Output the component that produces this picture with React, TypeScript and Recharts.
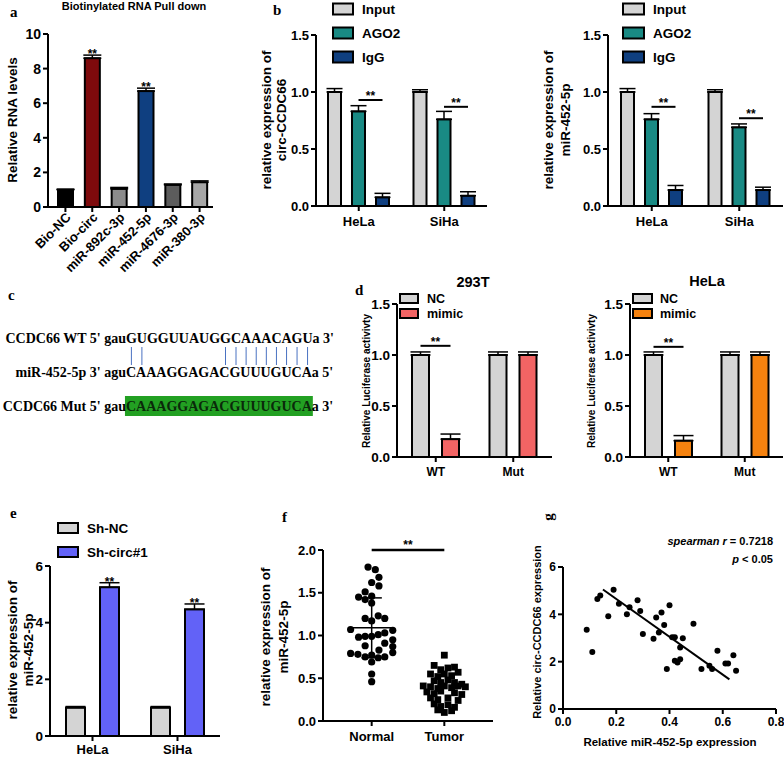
import React, { useMemo } from 'react';
import { BarChart, Bar, XAxis, YAxis, ErrorBar, ScatterChart, Scatter, ReferenceLine } from 'recharts';

const SANS = '"Liberation Sans", Arial, Helvetica, sans-serif';
const SERIF = '"Liberation Serif", "Times New Roman", serif';

// ---------------- panel a ----------------
const aCategories = ['Bio-NC', 'Bio-circ', 'miR-892c-3p', 'miR-452-5p', 'miR-4676-3p', 'miR-380-3p'];
const aValues = [1.0, 8.6, 1.05, 6.7, 1.28, 1.43];
const aErrors = [0.03, 0.18, 0.08, 0.17, 0.05, 0.08];
const aSignificant = [false, true, false, true, false, false];
const aColors = ['#000000', '#7e0a0c', '#8c8c8c', '#0f3f80', '#5c5c5c', '#a6a6a6'];
const aYTicks = [0, 2, 4, 6, 8, 10];

// ---------------- panel b ----------------
const bGroups = ['HeLa', 'SiHa'];
const bLegend = ['Input', 'AGO2', 'IgG'];
const bColors = ['#d4d4d4', '#198a84', '#0f3f80'];
const bCircInput = [1.0, 1.0];
const bCircInputErr = [0.03, 0.02];
const bCircAgo2 = [0.83, 0.76];
const bCircAgo2Err = [0.05, 0.07];
const bCircIgg = [0.076, 0.09];
const bCircIggErr = [0.035, 0.035];
const bCircSigLine = [0.93, 0.87];
const bMirInput = [1.0, 1.0];
const bMirInputErr = [0.03, 0.02];
const bMirAgo2 = [0.76, 0.69];
const bMirAgo2Err = [0.05, 0.03];
const bMirIgg = [0.14, 0.14];
const bMirIggErr = [0.04, 0.025];
const bMirSigLine = [0.87, 0.77];
const bYTicks = [0, 0.5, 1, 1.5];

// ---------------- panel c ----------------
const cWtPrefix = "CCDC66 WT 5' gau";
const cWtSeq = 'GUGGUUAUGGCAAACAGU';
const cWtSuffix = "a 3'";
const cMirPrefix = "miR-452-5p 3' agu";
const cMirSeq = 'CAAAGGAGACGUUUGUCA';
const cMirSuffix = "a 5'";
const cMutPrefix = "CCDC66 Mut 5' gau";
const cMutSeq = 'CAAAGGAGACGUUUGUCA';
const cMutSuffix = "a 3'";
const cPairs = [0, 1, 9, 10, 11, 12, 13, 14, 15, 16, 17];

// ---------------- panel d ----------------
const dGroups = ['WT', 'Mut'];
const dLegend = ['NC', 'mimic'];
const d293Colors = ['#d4d4d4', '#f26464'];
const dHelaColors = ['#d4d4d4', '#f5820f'];
const d293NC = [1.0, 1.0];
const d293NCErr = [0.03, 0.03];
const d293Mimic = [0.175, 1.0];
const d293MimicErr = [0.05, 0.03];
const d293Sig = [1.09, null];
const dHelaNC = [1.0, 1.0];
const dHelaNCErr = [0.03, 0.03];
const dHelaMimic = [0.16, 1.0];
const dHelaMimicErr = [0.05, 0.03];
const dHelaSig = [1.08, null];
const dYTicks = [0, 0.5, 1, 1.5];

// ---------------- panel e ----------------
const eGroups = ['HeLa', 'SiHa'];
const eLegend = ['Sh-NC', 'Sh-circ#1'];
const eColors = ['#d4d4d4', '#6262f7'];
const eShNC = [1.0, 1.0];
const eShNCErr = [0.04, 0.04];
const eShCirc = [5.25, 4.47];
const eShCircErr = [0.16, 0.19];
const eStars = [true, true];
const eYTicks = [0, 2, 4, 6];

// ---------------- panel f ----------------
const fGroups = ['Normal', 'Tumor'];
const fNormalPoints: [number, number][] = [
  [0.95, 1.8], [1.05, 1.77], [1.1, 1.68], [1.0, 1.62], [1.1, 1.58], [0.91, 1.51], [0.82, 1.45],
  [0.91, 1.42], [1.0, 1.46], [1.0, 1.38], [0.91, 1.2], [1.0, 1.17], [1.09, 1.23], [1.18, 1.2],
  [0.71, 1.07], [1.29, 1.06], [0.82, 0.98], [0.91, 0.99], [1.0, 0.99], [1.09, 1.01], [1.18, 1.03],
  [1.29, 0.95], [0.91, 0.88], [1.18, 0.91], [1.29, 0.87], [0.71, 0.79], [0.81, 0.78], [0.91, 0.75],
  [1.0, 0.77], [1.09, 0.74], [1.18, 0.75], [1.29, 0.8], [1.1, 0.83], [1.0, 0.69], [1.0, 0.55], [1.0, 0.46],
];
const fTumorPoints: [number, number][] = [
  [2.0, 0.77],
  [1.86, 0.65], [1.95, 0.6], [2.05, 0.62], [2.14, 0.63],
  [1.81, 0.55], [1.91, 0.52], [2.0, 0.55], [2.1, 0.53], [2.19, 0.57],
  [1.86, 0.47], [1.95, 0.45], [2.05, 0.48], [2.14, 0.45], [2.24, 0.43],
  [1.71, 0.41], [1.81, 0.4], [1.91, 0.38], [2.0, 0.41], [2.1, 0.39], [2.19, 0.41], [2.29, 0.4],
  [1.76, 0.34], [1.86, 0.32], [1.95, 0.35], [2.14, 0.33], [2.24, 0.31],
  [1.81, 0.27], [1.91, 0.25], [2.05, 0.27], [2.19, 0.24],
  [1.86, 0.2], [1.95, 0.17], [2.05, 0.19], [2.14, 0.16],
  [1.91, 0.13], [2.0, 0.1], [2.1, 0.12],
];
const fNormalMean = 1.09;
const fNormalSD = 0.35;
const fTumorMean = 0.34;
const fTumorSD = 0.16;
const fSigLine = 2.0;
const fYTicks = [0, 0.5, 1, 1.5, 2];

// ---------------- panel g ----------------
const gX = [0.089, 0.11, 0.129, 0.14, 0.17, 0.19, 0.21, 0.24, 0.25, 0.28, 0.29, 0.3, 0.34, 0.35, 0.36, 0.37, 0.38,
  0.39, 0.4, 0.41, 0.42, 0.42, 0.43, 0.44, 0.44, 0.45, 0.49, 0.52, 0.55, 0.56, 0.58, 0.61, 0.62, 0.64, 0.65];
const gY = [3.35, 2.41, 4.65, 4.8, 3.92, 5.04, 4.45, 4.0, 4.3, 4.59, 4.14, 3.17, 2.97, 3.87, 3.23, 4.08, 3.55,
  1.69, 4.38, 3.03, 3.03, 2.04, 1.96, 2.1, 2.6, 2.99, 3.6, 1.69, 1.83, 1.69, 2.46, 1.92, 1.92, 2.27, 1.62];
const gFitX = [0.15, 0.625];
const gFitY = [5.05, 1.25];
const gXTicks = [0, 0.2, 0.4, 0.6, 0.8];
const gYTicks = [0, 2, 4, 6];

// ---------------- helpers ----------------
type Box = { left: number; top: number; width: number; height: number };
type Plot = { x0: number; x1: number; y0: number; y1: number };

function frame(box: Box, plot: Plot) {
  return {
    margin: { top: plot.y0 - box.top, right: box.left + box.width - plot.x1, bottom: 0, left: 0 },
    yWidth: plot.x0 - box.left,
    xHeight: box.top + box.height - plot.y1,
  };
}

const AX = { stroke: '#000', strokeWidth: 2 };
const tickStyle = (fs: number) => ({ fill: '#000', fontSize: fs, fontWeight: 700, fontFamily: SANS });
const fmt1 = (v: number) => v.toFixed(1);

function groupRows(groups: string[], vals: number[][], errs: number[][], sig?: (number | null)[], stars?: boolean[]) {
  return groups.map((name, g) => {
    const row: any = { name, sig: sig ? sig[g] : null, star: stars ? stars[g] : false };
    vals.forEach((arr, s) => {
      row[`s${s}`] = arr[g];
      row[`e${s}`] = [0, errs[s][g]];
    });
    return row;
  });
}

function makeBarShape(fill: string | ((n: string) => string), key: string, opts: { sigGap?: number; starErrKey?: string }) {
  return (p: any) => {
    const { x, y, width, height, payload } = p;
    if (x == null || y == null || !payload) return null;
    const color = typeof fill === 'function' ? fill(payload.name) : fill;
    const v = payload[key];
    const ppu = v ? height / v : 0;
    const base = y + height;
    const parts: any[] = [
      <rect key="r" x={x} y={y} width={width} height={height} fill={color} stroke="#000" strokeWidth={2} />,
    ];
    if (opts.sigGap != null && payload.sig != null) {
      const sy = base - payload.sig * ppu;
      const c1 = x + width / 2;
      const c2 = c1 + width + opts.sigGap;
      parts.push(<line key="l" x1={c1} x2={c2} y1={sy} y2={sy} stroke="#000" strokeWidth={2} />);
      parts.push(
        <text key="t" x={(c1 + c2) / 2} y={sy} textAnchor="middle" fontFamily={SANS} fontWeight={700} fontSize={12} fill="#000">**</text>
      );
    }
    if (opts.starErrKey && payload.star) {
      const err = payload[opts.starErrKey];
      const top = y - (Array.isArray(err) ? err[1] : err) * ppu;
      parts.push(
        <text key="s" x={x + width / 2} y={top + 3} textAnchor="middle" fontFamily={SANS} fontWeight={700} fontSize={12} fill="#000">**</text>
      );
    }
    return <g>{parts}</g>;
  };
}

const RotatedTick = (props: any) => {
  const { x, y, payload } = props;
  const ox = x + 3;
  const oy = y + 1;
  return (
    <text x={ox} y={oy} dy="0.35em" textAnchor="end" transform={`rotate(-45, ${ox}, ${oy})`} fill="#000" fontSize={13} fontWeight={700} fontFamily={SANS}>
      {payload.value}
    </text>
  );
};

// ---------------- panels ----------------
const aRows = aCategories.map((name, i) => ({ name, s0: aValues[i], e0: [0, aErrors[i]], star: aSignificant[i], sig: null }));

function PanelA() {
  const box = { left: 0, top: 20, width: 228, height: 260 };
  const plot = { x0: 48, x1: 213, y0: 34, y1: 207 };
  const f = frame(box, plot);
  return (
    <div style={{ position: 'absolute', left: box.left, top: box.top }}>
      <BarChart width={box.width} height={box.height} data={aRows} margin={f.margin} barSize={15}>
        <XAxis dataKey="name" interval={0} height={f.xHeight} axisLine={AX} tickLine={AX} tickSize={5} padding={{ left: 4, right: 0 }}
          tick={(p: any) => <RotatedTick {...p} />} />
        <YAxis type="number" width={f.yWidth} domain={[0, 10]} ticks={aYTicks} interval={0} axisLine={AX} tickLine={AX} tickSize={5} tickMargin={2} tick={tickStyle(14)} />
        <Bar dataKey="s0" isAnimationActive={false} shape={makeBarShape((n) => aColors[aCategories.indexOf(n)], 's0', { starErrKey: 'e0' })}>
          <ErrorBar dataKey="e0" width={9} stroke="#000" strokeWidth={1.5} direction="y" />
        </Bar>
      </BarChart>
    </div>
  );
}

function GroupBarPanel(props: {
  box: Box; plot: Plot; rows: any[]; colors: string[]; domain: [number, number]; ticks: number[];
  barSize: number; barGap: number; sigSeries?: number; starSeries?: number; yFont: number; xFont: number;
  xTickMargin: number; yFmt?: (v: number) => string; capWidth: number;
}) {
  const { box, plot, rows, colors, domain, ticks, barSize, barGap, sigSeries, starSeries, yFont, xFont, xTickMargin, yFmt, capWidth } = props;
  const f = frame(box, plot);
  return (
    <div style={{ position: 'absolute', left: box.left, top: box.top }}>
      <BarChart width={box.width} height={box.height} data={rows} margin={f.margin} barSize={barSize} barGap={barGap}>
        <XAxis dataKey="name" interval={0} height={f.xHeight} axisLine={AX} tickLine={AX} tickSize={5} tickMargin={xTickMargin} tick={tickStyle(xFont)} />
        <YAxis type="number" width={f.yWidth} domain={domain} ticks={ticks} interval={0} axisLine={AX} tickLine={AX} tickSize={5} tickMargin={2}
          tick={tickStyle(yFont)} tickFormatter={yFmt} />
        {colors.map((c, i) => (
          <Bar key={i} dataKey={`s${i}`} isAnimationActive={false}
            shape={makeBarShape(c, `s${i}`, { sigGap: i === sigSeries ? barGap : undefined, starErrKey: i === starSeries ? `e${i}` : undefined })}>
            <ErrorBar dataKey={`e${i}`} width={capWidth} stroke="#000" strokeWidth={1.5} direction="y" />
          </Bar>
        ))}
      </BarChart>
    </div>
  );
}

const fNormalData = fNormalPoints.map(([x, y]) => ({ x, y }));
const fTumorData = fTumorPoints.map(([x, y]) => ({ x, y }));

function PanelF() {
  const box = { left: 290, top: 530, width: 210, height: 227 };
  const plot = { x0: 323, x1: 493, y0: 550, y1: 721 };
  const f = frame(box, plot);
  return (
    <div style={{ position: 'absolute', left: box.left, top: box.top }}>
      <ScatterChart width={box.width} height={box.height} margin={f.margin}>
        <XAxis type="number" dataKey="x" domain={[0.33, 2.67]} ticks={[1, 2]} interval={0} height={f.xHeight} axisLine={AX} tickLine={AX}
          tickSize={5} tickMargin={6} tick={tickStyle(13)} tickFormatter={(v: number) => fGroups[Math.round(v) - 1]} />
        <YAxis type="number" dataKey="y" domain={[0, 2]} ticks={fYTicks} interval={0} width={f.yWidth} axisLine={AX} tickLine={AX}
          tickSize={5} tickMargin={2} tick={tickStyle(13)} tickFormatter={fmt1} />
        <Scatter data={fNormalData} isAnimationActive={false} shape={(p: any) => <circle cx={p.cx} cy={p.cy} r={3.6} fill="#000" />} />
        <Scatter data={fTumorData} isAnimationActive={false} shape={(p: any) => <rect x={p.cx - 3.4} y={p.cy - 3.4} width={6.8} height={6.8} fill="#000" />} />
        <ReferenceLine segment={[{ x: 0.7, y: fNormalMean }, { x: 1.3, y: fNormalMean }]} stroke="#000" strokeWidth={1.5} />
        <ReferenceLine segment={[{ x: 1, y: fNormalMean - fNormalSD }, { x: 1, y: fNormalMean + fNormalSD }]} stroke="#000" strokeWidth={1.5} />
        <ReferenceLine segment={[{ x: 0.86, y: fNormalMean + fNormalSD }, { x: 1.14, y: fNormalMean + fNormalSD }]} stroke="#000" strokeWidth={1.5} />
        <ReferenceLine segment={[{ x: 0.86, y: fNormalMean - fNormalSD }, { x: 1.14, y: fNormalMean - fNormalSD }]} stroke="#000" strokeWidth={1.5} />
        <ReferenceLine segment={[{ x: 1.7, y: fTumorMean }, { x: 2.3, y: fTumorMean }]} stroke="#eeeeee" strokeWidth={1.2} />
        <ReferenceLine segment={[{ x: 2, y: fTumorMean - fTumorSD }, { x: 2, y: fTumorMean + fTumorSD }]} stroke="#eeeeee" strokeWidth={1.2} />
        <ReferenceLine segment={[{ x: 1.86, y: fTumorMean + fTumorSD }, { x: 2.14, y: fTumorMean + fTumorSD }]} stroke="#eeeeee" strokeWidth={1.2} />
        <ReferenceLine segment={[{ x: 1.86, y: fTumorMean - fTumorSD }, { x: 2.14, y: fTumorMean - fTumorSD }]} stroke="#eeeeee" strokeWidth={1.2} />
        <ReferenceLine segment={[{ x: 1, y: fSigLine }, { x: 2, y: fSigLine }]} stroke="#000" strokeWidth={2.5}
          label={{ value: '**', position: 'top', offset: 1, fill: '#000', fontSize: 12, fontWeight: 700, fontFamily: SANS }} />
      </ScatterChart>
    </div>
  );
}

const gData = gX.map((x, i) => ({ x, y: gY[i] }));

function PanelG() {
  const box = { left: 545, top: 545, width: 239, height: 212 };
  const plot = { x0: 563, x1: 776, y0: 567, y1: 709 };
  const f = frame(box, plot);
  return (
    <div style={{ position: 'absolute', left: box.left, top: box.top }}>
      <ScatterChart width={box.width} height={box.height} margin={f.margin}>
        <XAxis type="number" dataKey="x" domain={[0, 0.8]} ticks={gXTicks} interval={0} height={f.xHeight} axisLine={AX} tickLine={AX}
          tickSize={5} tickMargin={3} tick={tickStyle(12)} tickFormatter={fmt1} />
        <YAxis type="number" dataKey="y" domain={[0, 6]} ticks={gYTicks} interval={0} width={f.yWidth} axisLine={AX} tickLine={AX}
          tickSize={5} tickMargin={2} tick={tickStyle(12)} />
        <Scatter data={gData} isAnimationActive={false} shape={(p: any) => <circle cx={p.cx} cy={p.cy} r={3} fill="#000" />} />
        <ReferenceLine segment={[{ x: gFitX[0], y: gFitY[0] }, { x: gFitX[1], y: gFitY[1] }]} stroke="#000" strokeWidth={2} />
      </ScatterChart>
    </div>
  );
}

// ---------------- overlay texts ----------------
function VText({ x, y, size, children }: any) {
  return (
    <text x={x} y={y} transform={`rotate(-90, ${x}, ${y})`} textAnchor="middle" dominantBaseline="central"
      fontFamily={SANS} fontWeight={700} fontSize={size} fill="#000">{children}</text>
  );
}
function HText({ x, y, size, anchor = 'middle', children }: any) {
  return (
    <text x={x} y={y} textAnchor={anchor} dominantBaseline="central" fontFamily={SANS} fontWeight={700} fontSize={size} fill="#000">{children}</text>
  );
}
function Letter({ x, y, children }: any) {
  return <text x={x} y={y} fontFamily={SERIF} fontWeight={700} fontSize={15} fill="#000">{children}</text>;
}
function LegendItem({ x, y, w, h, color, label, tx, size }: any) {
  return (
    <g>
      <rect x={x} y={y - h / 2} width={w} height={h} fill={color} stroke="#000" strokeWidth={2} />
      <HText x={tx} y={y} size={size} anchor="start">{label}</HText>
    </g>
  );
}

function useMeasure(font: string) {
  return useMemo(() => {
    const c = typeof document !== 'undefined' ? document.createElement('canvas') : null;
    const ctx = c ? c.getContext('2d') : null;
    if (ctx) ctx.font = font;
    return (s: string) => (ctx ? ctx.measureText(s).width : s.length * 9);
  }, [font]);
}

function PanelC() {
  const measure = useMeasure('bold 14px "Liberation Serif"');
  const xs = 5 + measure(cWtPrefix);
  const b1 = 343;
  const b2 = 377;
  const b3 = 411;
  const pairX = cPairs.map((i) => xs + measure(cWtSeq.slice(0, i)) + measure(cWtSeq[i]) / 2);
  const mutW = measure(cMutSeq);
  const wtW = measure(cWtSeq);
  const mirW = measure(cMirSeq);
  return (
    <g fontFamily={SERIF} fontWeight={700} fontSize={14} fill="#000">
      <text x={xs} y={b1} textAnchor="end">{cWtPrefix}</text>
      <text x={xs} y={b1}>{cWtSeq}</text>
      <text x={xs + wtW} y={b1}>{cWtSuffix}</text>
      {pairX.map((px, k) => (
        <line key={k} x1={px} x2={px} y1={b1 + 4} y2={b2 - 12} stroke="#4a72c2" strokeWidth={1} />
      ))}
      <text x={xs} y={b2} textAnchor="end">{cMirPrefix}</text>
      <text x={xs} y={b2}>{cMirSeq}</text>
      <text x={xs + mirW} y={b2}>{cMirSuffix}</text>
      <rect x={xs - 1} y={b3 - 15} width={mutW + 2} height={20} fill="#22a022" />
      <text x={xs} y={b3} textAnchor="end">{cMutPrefix}</text>
      <text x={xs} y={b3} fill="#0a2a0a">{cMutSeq}</text>
      <text x={xs + mutW} y={b3}>{cMutSuffix}</text>
    </g>
  );
}

function Overlay() {
  return (
    <svg width={784} height={757} style={{ position: 'absolute', left: 0, top: 0, pointerEvents: 'none' }}>
      {/* panel letters */}
      <Letter x={10} y={17}>a</Letter>
      <Letter x={273} y={15}>b</Letter>
      <Letter x={8} y={300}>c</Letter>
      <Letter x={355} y={295}>d</Letter>
      <Letter x={10} y={518}>e</Letter>
      <Letter x={282} y={522}>f</Letter>
      <text x={548} y={517} transform="rotate(-90, 548, 517)" textAnchor="middle" dominantBaseline="central"
        fontFamily={SERIF} fontWeight={700} fontSize={15} fill="#000">g</text>

      {/* a */}
      <HText x={134} y={6} size={11}>Biotinylated RNA Pull down</HText>
      <VText x={12.5} y={120} size={13.5}>Relative RNA levels</VText>

      {/* b */}
      <VText x={266} y={120} size={13.5}>relative expression of</VText>
      <VText x={281} y={120} size={13.5}>circ-CCDC66</VText>
      <VText x={548} y={120} size={13.5}>relative expression of</VText>
      <VText x={565} y={120} size={13.5}>miR-452-5p</VText>
      {bLegend.map((l, i) => (
        <LegendItem key={'bl' + i} x={333} y={9 + i * 24} w={20} h={11} color={bColors[i]} label={l} tx={362} size={13.5} />
      ))}
      {bLegend.map((l, i) => (
        <LegendItem key={'br' + i} x={623} y={9 + i * 24} w={21} h={11} color={bColors[i]} label={l} tx={653} size={13.5} />
      ))}

      {/* c */}
      <PanelC />

      {/* d */}
      <HText x={473} y={281.5} size={14.5}>293T</HText>
      <HText x={707} y={280.5} size={14.5}>HeLa</HText>
      <VText x={366} y={381} size={10}>Relative Luciferase activivty</VText>
      <VText x={591} y={381} size={10}>Relative Luciferase activivty</VText>
      {dLegend.map((l, i) => (
        <LegendItem key={'dl' + i} x={400} y={298.5 + i * 15} w={18} h={9} color={d293Colors[i]} label={l} tx={427} size={12.5} />
      ))}
      {dLegend.map((l, i) => (
        <LegendItem key={'dr' + i} x={633} y={298.5 + i * 15} w={19} h={9} color={dHelaColors[i]} label={l} tx={660} size={12.5} />
      ))}

      {/* e */}
      <VText x={12} y={650} size={13.5}>relative expression of</VText>
      <VText x={28} y={650} size={13.5}>miR-452-5p</VText>
      {eLegend.map((l, i) => (
        <LegendItem key={'el' + i} x={58} y={528 + i * 24} w={20} h={10} color={eColors[i]} label={l} tx={87} size={13.5} />
      ))}

      {/* f */}
      <VText x={265} y={637} size={13.5}>relative expression of</VText>
      <VText x={283} y={637} size={13.5}>miR-452-5p</VText>

      {/* g */}
      <VText x={537} y={632} size={11}>Relative circ-CCDC66 expression</VText>
      <HText x={670} y={742} size={11.5}>Relative miR-452-5p expression</HText>
      <text x={773} y={545} textAnchor="end" fontFamily={SANS} fontWeight={700} fontSize={11} fill="#000">
        <tspan fontStyle="italic">spearman</tspan>
        <tspan>{'  '}</tspan>
        <tspan fontStyle="italic">r</tspan>
        <tspan> = 0.7218</tspan>
      </text>
      <text x={773} y={563} textAnchor="end" fontFamily={SANS} fontWeight={700} fontSize={11} fill="#000">
        <tspan fontStyle="italic">p</tspan>
        <tspan> &lt; 0.05</tspan>
      </text>
    </svg>
  );
}

const bCircRows = groupRows(bGroups, [bCircInput, bCircAgo2, bCircIgg], [bCircInputErr, bCircAgo2Err, bCircIggErr], bCircSigLine);
const bMirRows = groupRows(bGroups, [bMirInput, bMirAgo2, bMirIgg], [bMirInputErr, bMirAgo2Err, bMirIggErr], bMirSigLine);
const d293Rows = groupRows(dGroups, [d293NC, d293Mimic], [d293NCErr, d293MimicErr], d293Sig);
const dHelaRows = groupRows(dGroups, [dHelaNC, dHelaMimic], [dHelaNCErr, dHelaMimicErr], dHelaSig);
const eRows = groupRows(eGroups, [eShNC, eShCirc], [eShNCErr, eShCircErr], undefined, eStars);

export default function App() {
  return (
    <div style={{ position: 'absolute', left: 0, top: 0, width: 784, height: 757, background: '#fff', overflow: 'hidden' }}>
      <PanelA />
      <GroupBarPanel box={{ left: 280, top: 20, width: 210, height: 215 }} plot={{ x0: 316, x1: 487, y0: 35, y1: 206 }}
        rows={bCircRows} colors={bColors} domain={[0, 1.5]} ticks={bYTicks} barSize={13} barGap={11} sigSeries={1}
        yFont={13} xFont={13} xTickMargin={6} yFmt={fmt1} capWidth={8} />
      <GroupBarPanel box={{ left: 570, top: 20, width: 214, height: 215 }} plot={{ x0: 608, x1: 783, y0: 35, y1: 206 }}
        rows={bMirRows} colors={bColors} domain={[0, 1.5]} ticks={bYTicks} barSize={13} barGap={11} sigSeries={1}
        yFont={13} xFont={13} xTickMargin={6} yFmt={fmt1} capWidth={8} />
      <GroupBarPanel box={{ left: 360, top: 290, width: 196, height: 195 }} plot={{ x0: 397, x1: 552, y0: 304, y1: 457 }}
        rows={d293Rows} colors={d293Colors} domain={[0, 1.5]} ticks={dYTicks} barSize={17} barGap={13} sigSeries={0}
        yFont={13.5} xFont={12} xTickMargin={5} yFmt={fmt1} capWidth={10} />
      <GroupBarPanel box={{ left: 590, top: 290, width: 194, height: 195 }} plot={{ x0: 630, x1: 783, y0: 304, y1: 457 }}
        rows={dHelaRows} colors={dHelaColors} domain={[0, 1.5]} ticks={dYTicks} barSize={17} barGap={13} sigSeries={0}
        yFont={13.5} xFont={12} xTickMargin={5} yFmt={fmt1} capWidth={10} />
      <GroupBarPanel box={{ left: 8, top: 556, width: 217, height: 201 }} plot={{ x0: 50, x1: 220, y0: 566, y1: 736 }}
        rows={eRows} colors={eColors} domain={[0, 6]} ticks={eYTicks} barSize={19} barGap={15} starSeries={1}
        yFont={13.5} xFont={13} xTickMargin={4} capWidth={10} />
      <PanelF />
      <PanelG />
      <Overlay />
    </div>
  );
}
